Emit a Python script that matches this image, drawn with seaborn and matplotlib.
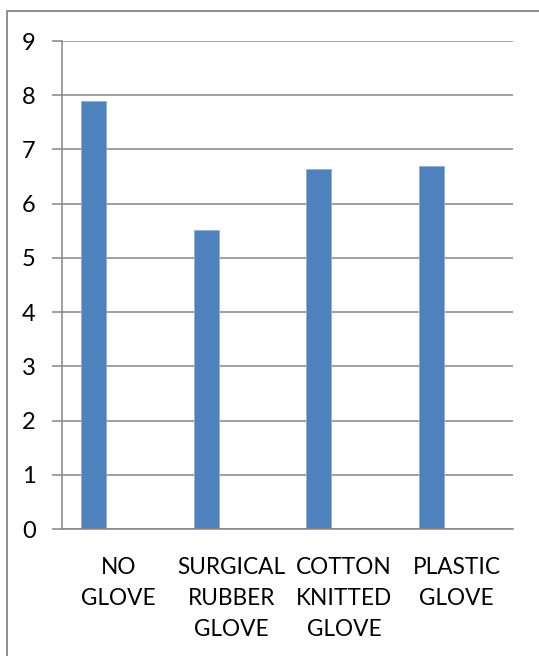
import matplotlib.pyplot as plt
import seaborn as sns
import numpy as np
import pandas as pd
from matplotlib.patches import Rectangle

# values
categories = ['NO\nGLOVE', 'SURGICAL\nRUBBER\nGLOVE', 'COTTON\nKNITTED\nGLOVE', 'PLASTIC\nGLOVE']
series_1 = [7.89, 5.52, 6.64, 6.69]
# the source has two more (empty) series that only reserve space in each slot
series_2 = [np.nan] * 4
series_3 = [np.nan] * 4
series_names = ['Series 1', 'Series 2', 'Series 3']
y_ticks = list(range(0, 10))

df = pd.DataFrame({
    'category': categories * 3,
    'value': series_1 + series_2 + series_3,
    'series': [s for s in series_names for _ in categories],
})

sns.set_style('white')
plt.rcParams['font.family'] = ['Lato', 'DejaVu Sans']

fig = plt.figure(figsize=(5.39, 6.56), dpi=100)
ax = fig.add_axes([62 / 539, 127 / 656, (513 - 62) / 539, (529 - 41) / 656])

sns.barplot(data=df, x='category', y='value', hue='series', hue_order=series_names,
            order=categories, palette=['#4F81BD', '#C0504D', '#9BBB59'],
            saturation=1, width=0.667, dodge=True, gap=0, legend=False, ax=ax,
            edgecolor='#8fb0da', linewidth=0.6, errorbar=None)

grid_col = '#868686'
ax.set_ylim(0, 9)
ax.set_xlim(-0.5, len(categories) - 0.5)
ax.set_yticks(y_ticks)
ax.set_yticklabels([str(t) for t in y_ticks], fontsize=17, color='#000000')
ax.yaxis.grid(True, color=grid_col, linewidth=1.1)
ax.set_axisbelow(True)

# category labels at centres, tick marks at slot boundaries
ax.set_xticks(range(len(categories)))
ax.set_xticklabels(categories, fontsize=16.3, color='#000000', linespacing=1.6)
ax.set_xticks(np.arange(-0.5, len(categories)), minor=True)
ax.tick_params(axis='x', which='major', length=0, pad=20)
ax.tick_params(axis='x', which='minor', length=7, width=1.1, color=grid_col, direction='out')
ax.tick_params(axis='y', length=7, width=1.1, color=grid_col, direction='out', pad=12, left=True)
ax.set_xlabel('')
ax.set_ylabel('')

for side in ['top', 'right']:
    ax.spines[side].set_visible(False)
for side in ['left', 'bottom']:
    ax.spines[side].set_visible(True)
    ax.spines[side].set_color(grid_col)
    ax.spines[side].set_linewidth(1.1)

# outer chart frame (cut by the image edge on the right and bottom)
fig.patches.append(Rectangle((7 / 539, -0.05), 1.0, 1 - 11 / 656 + 0.05,
                             transform=fig.transFigure, fill=False,
                             edgecolor=grid_col, linewidth=1.3))

fig.savefig('out.png', dpi=100)
